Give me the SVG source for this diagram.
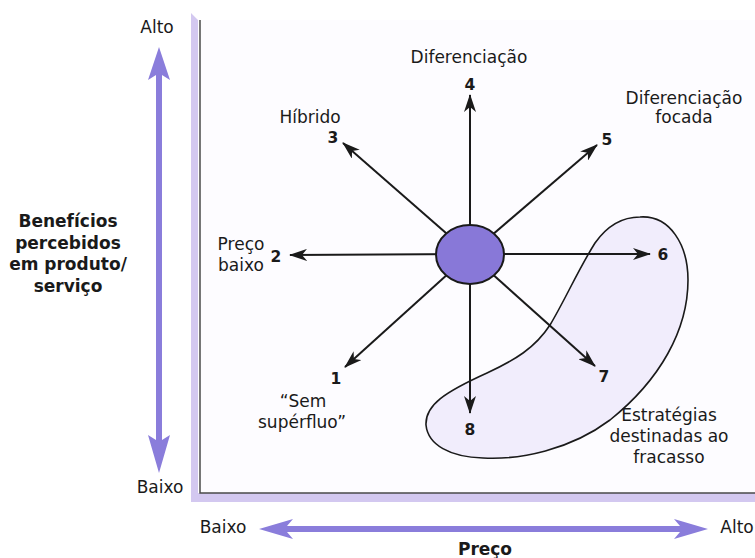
<svg xmlns="http://www.w3.org/2000/svg" width="755" height="558" viewBox="0 0 755 558">
<style>
text{font-family:"DejaVu Sans","Liberation Sans",sans-serif;fill:#1a1a1a;text-anchor:middle}
.lbl{font-size:17px}
.num{font-size:15.5px;font-weight:bold}
.ax{font-size:17px;font-weight:bold}
.ray{stroke:#1a1a1a;stroke-width:2;fill:none;marker-end:url(#ah)}
.purple{fill:#8a7ddb}
</style>
<defs>
<marker id="ah" viewBox="0 0 18 12" refX="17" refY="6" markerWidth="18" markerHeight="12" markerUnits="userSpaceOnUse" orient="auto">
<path d="M0,0 L18,6 L0,12 L5,6 Z" fill="#1a1a1a"/>
</marker>
</defs>
<rect width="755" height="558" fill="#ffffff"/>
<g id="frame">
<rect x="200" y="20" width="555" height="473" fill="#fdfcff"/>
<polygon points="191,13 198,20 198,493 755,493 755,502 191,502" fill="#d3c8f0"/>
<polyline points="200,20 200,493 755,493" fill="none" stroke="#4a4a4a" stroke-width="1.5"/>
</g>
<g id="axis-y">
<polygon class="purple" points="159,47 170,80 162,75 162,440 170,435 159,473 148,435 156,440 156,75 148,80"/>
<text class="lbl" x="157" y="33">Alto</text>
<text class="lbl" x="160" y="493">Baixo</text>
<text class="ax" x="68" y="227">Benefícios</text>
<text class="ax" x="68" y="249">percebidos</text>
<text class="ax" x="68" y="270">em produto/</text>
<text class="ax" x="68" y="292">serviço</text>
</g>
<g id="axis-x">
<polygon class="purple" points="259,529 293,519 287,526 680,526 674,519 708,529 674,539 680,532 287,532 293,539"/>
<text class="lbl" x="223" y="533">Baixo</text>
<text class="lbl" x="737" y="533">Alto</text>
<text class="ax" x="485" y="555">Preço</text>
</g>
<g id="failure-zone">
<path d="M640,217 C670,215 688,245 688,280 C688,330 660,380 610,420 C570,450 520,460 483,458 C450,457 428,445 426,425 C425,405 445,392 487,373 C515,360 535,348 550,325 C565,300 578,270 595,243 C607,226 622,217 640,217 Z" fill="#f1edfc" stroke="#1a1a1a" stroke-width="1.6"/>
<text class="lbl" x="669" y="421">Estratégias</text>
<text class="lbl" x="669" y="442">destinadas ao</text>
<text class="lbl" x="669" y="463">fracasso</text>
</g>
<g id="connectors">
<line class="ray" x1="470" y1="254" x2="470" y2="95"/>
<line class="ray" x1="470" y1="254" x2="597" y2="145"/>
<line class="ray" x1="470" y1="254" x2="650" y2="254"/>
<line class="ray" x1="470" y1="254" x2="595" y2="366"/>
<line class="ray" x1="470" y1="254" x2="470" y2="413"/>
<line class="ray" x1="470" y1="254" x2="345" y2="367"/>
<line class="ray" x1="470" y1="254" x2="290" y2="255"/>
<line class="ray" x1="470" y1="254" x2="343" y2="143"/>
</g>
<g id="center">
<ellipse cx="470" cy="254.5" rx="34" ry="29.5" fill="#8878d8" stroke="#1a1a1a" stroke-width="2"/>
</g>
<g id="s4"><text class="lbl" x="469" y="63">Diferenciação</text><text class="num" x="470" y="90">4</text></g>
<g id="s5"><text class="lbl" x="684" y="104">Diferenciação</text><text class="lbl" x="684" y="123">focada</text><text class="num" x="607" y="145">5</text></g>
<g id="s3"><text class="lbl" x="310" y="123">Híbrido</text><text class="num" x="333" y="143">3</text></g>
<g id="s2"><text class="lbl" x="241" y="250">Preço</text><text class="lbl" x="241" y="271">baixo</text><text class="num" x="276" y="262">2</text></g>
<g id="s1"><text class="num" x="336" y="384">1</text><text class="lbl" x="303" y="407">“Sem</text><text class="lbl" x="302" y="428">supérfluo”</text></g>
<g id="s6"><text class="num" x="663" y="260">6</text></g>
<g id="s7"><text class="num" x="604" y="382">7</text></g>
<g id="s8"><text class="num" x="470" y="435">8</text></g>
</svg>
